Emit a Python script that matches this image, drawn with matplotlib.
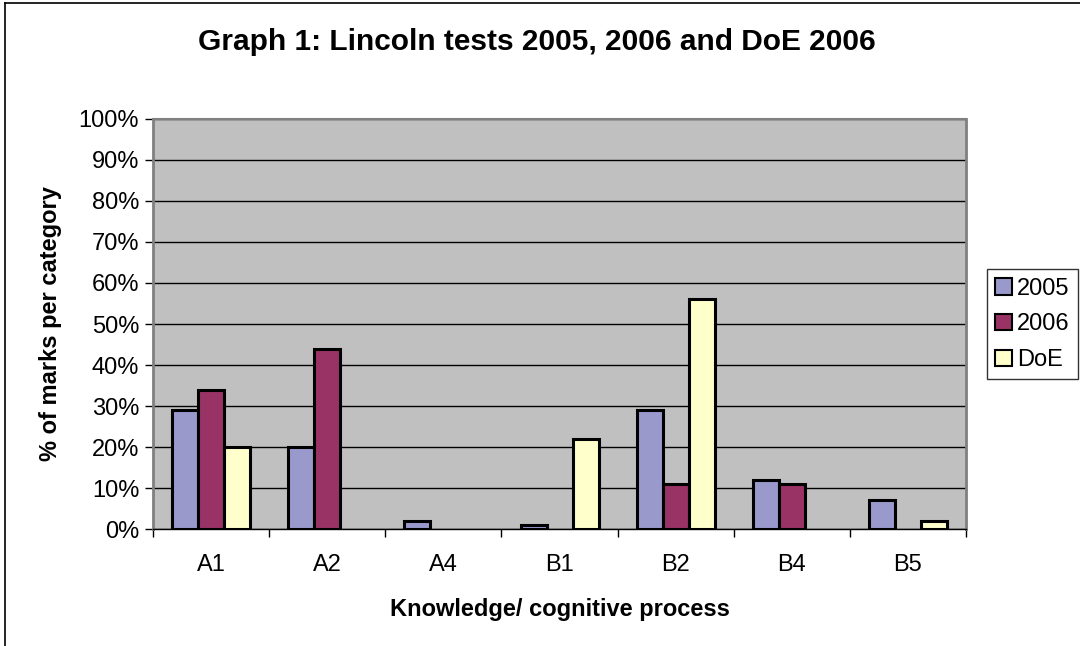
import numpy as np
import matplotlib.pyplot as plt
from matplotlib.lines import Line2D

# Data
categories = ['A1', 'A2', 'A4', 'B1', 'B2', 'B4', 'B5']
y2005 = [29, 20, 2, 1, 29, 12, 7]
y2006 = [34, 44, 0, 0, 11, 11, 0]
doe = [20, 0, 0, 22, 56, 0, 2]
series_names = ['2005', '2006', 'DoE']

plt.rcParams['font.family'] = ['Liberation Sans', 'DejaVu Sans']

fig = plt.figure(figsize=(10.8, 6.46), dpi=100)
ax = fig.add_axes([0.1417, 0.1811, 0.7528, 0.6347])
ax.set_facecolor('#C0C0C0')

colors = ['#9999CC', '#993366', '#FFFFCC']
x = np.arange(len(categories))
w = 0.224
for i, (vals, c, name) in enumerate(zip([y2005, y2006, doe], colors, series_names)):
    v = np.array(vals, dtype=float)
    mask = v > 0
    ax.bar(x[mask] + (i - 1) * w, v[mask], width=w, color=c,
           edgecolor='black', linewidth=2.2, label=name, zorder=3)

ax.set_xlim(-0.5, len(categories) - 0.5)
ax.set_ylim(0, 100)
ax.set_yticks(range(0, 101, 10))
ax.set_yticklabels([f'{t}%' for t in range(0, 101, 10)], fontsize=17)
ax.yaxis.grid(True, color='black', linewidth=1, zorder=1)
ax.set_axisbelow(True)

ax.set_xticks(x)
ax.set_xticklabels(categories, fontsize=17)
ax.set_xticks(np.arange(-0.5, len(categories), 1), minor=True)
ax.tick_params(axis='x', which='major', length=0, pad=18)
ax.tick_params(axis='x', which='minor', length=6, width=1, direction='out')
ax.tick_params(axis='y', length=6, width=1, direction='out', pad=4)

for s in ['left', 'right']:
    ax.spines[s].set_color('#808080')
    ax.spines[s].set_linewidth(2)
ax.spines['top'].set_color('#808080')
ax.spines['top'].set_linewidth(1.5)
ax.spines['bottom'].set_color('black')
ax.spines['bottom'].set_linewidth(1)

ax.set_xlabel('Knowledge/ cognitive process', fontsize=17, fontweight='bold', labelpad=16)
ax.set_ylabel('% of marks per category', fontsize=17, fontweight='bold', labelpad=12)
fig.text(0.497, 0.935, 'Graph 1: Lincoln tests 2005, 2006 and DoE 2006',
         ha='center', va='center', fontsize=21.5, fontweight='bold')

handles = [plt.Rectangle((0, 0), 1, 1, facecolor=c, edgecolor='black', linewidth=1.5)
           for c in colors]
leg = fig.legend(handles, series_names, loc='upper left',
                 bbox_to_anchor=(0.914, 0.583), fontsize=17, frameon=True,
                 fancybox=False, edgecolor='black', handlelength=0.7,
                 handleheight=0.7, handletextpad=0.2, borderpad=0.35,
                 labelspacing=0.58, borderaxespad=0)
leg.get_frame().set_linewidth(1)

# chart border (left and top visible)
fig.add_artist(Line2D([0.005, 0.005], [0.0, 0.995], color='black', linewidth=1.2))
fig.add_artist(Line2D([0.005, 1.0], [0.995, 0.995], color='black', linewidth=1.2))

fig.savefig('out.png', dpi=100)
